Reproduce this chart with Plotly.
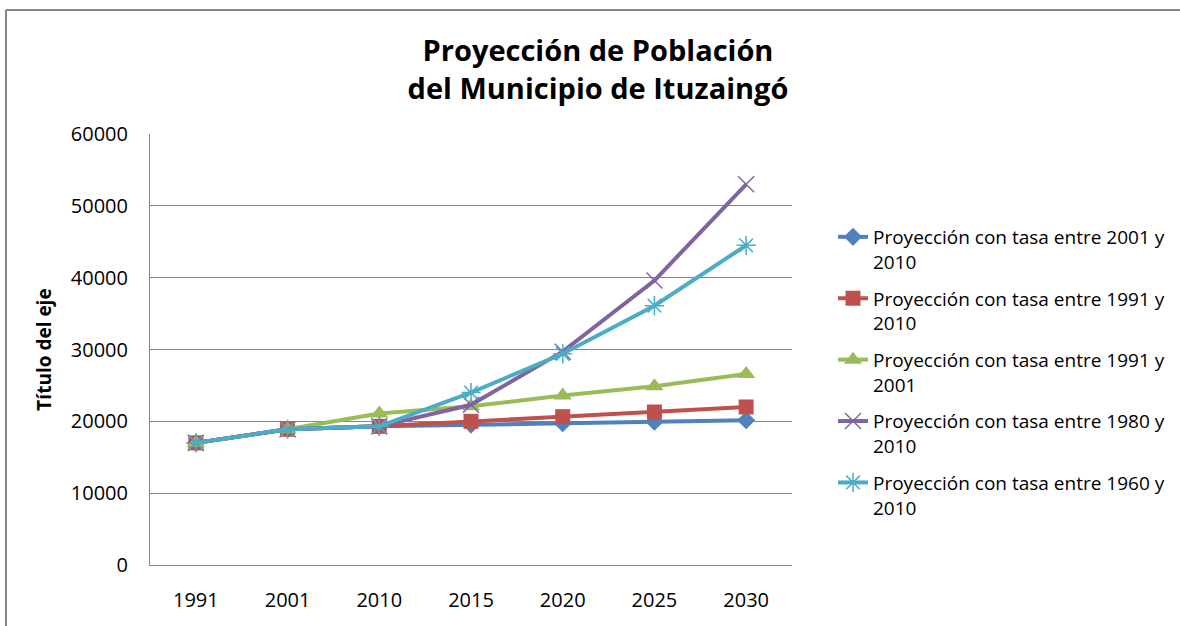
import plotly.graph_objects as go

years = ["1991", "2001", "2010", "2015", "2020", "2025", "2030"]

names = [
    "Proyección con tasa entre 2001 y<br>2010",
    "Proyección con tasa entre 1991 y<br>2010",
    "Proyección con tasa entre 1991 y<br>2001",
    "Proyección con tasa entre 1980 y<br>2010",
    "Proyección con tasa entre 1960 y<br>2010",
]

tasa_2001_2010 = [17000, 18900, 19300, 19550, 19750, 19950, 20150]
tasa_1991_2010 = [17000, 18900, 19300, 20000, 20650, 21300, 22000]
tasa_1991_2001 = [17000, 18900, 21100, 22100, 23600, 24900, 26600]
tasa_1980_2010 = [17000, 18900, 19300, 22300, 29700, 39600, 53000]
tasa_1960_2010 = [17000, 18900, 19300, 24000, 29400, 36100, 44500]

series = [tasa_2001_2010, tasa_1991_2010, tasa_1991_2001, tasa_1980_2010, tasa_1960_2010]
colors = ["#4F81BD", "#C0504D", "#9BBB59", "#8064A2", "#4BACC6"]
symbols = ["diamond", "square", "triangle-up", "x-thin", "asterisk"]
sizes = [14, 15, 16, 16, 16]

FONT = "Open Sans"

fig = go.Figure()
for i, (nm, vals) in enumerate(zip(names, series)):
    sym = symbols[i]
    marker = dict(symbol=sym, size=sizes[i], color=colors[i])
    if sym in ("x-thin", "asterisk"):
        marker["line"] = dict(color=colors[i], width=1.5)
    fig.add_trace(go.Scatter(
        x=years, y=vals, name=nm, mode="lines+markers",
        line=dict(color=colors[i], width=4),
        marker=marker, legendgroup=f"g{i}",
    ))

L, R, T, B = 150, 792, 134, 565
W, H = 1180, 626
pw, ph = R - L, B - T

def px(x):
    return (x - L) / pw

def py(y):
    return (B - y) / ph

fig.update_layout(
    width=W, height=H,
    margin=dict(l=L, r=W - R, t=T, b=H - B, autoexpand=False),
    paper_bgcolor="white", plot_bgcolor="white",
    font=dict(family=FONT, color="#000000"),
    title=dict(
        text="<b>Proyección de Población<br>del Municipio de Ituzaingó</b>",
        x=598 / W, xref="container", xanchor="center",
        y=1 - 61 / H, yref="container", yanchor="top",
        font=dict(family=FONT, size=29, color="#000000"),
    ),
    legend=dict(
        x=px(833), xanchor="left", y=py(218), yanchor="top",
        font=dict(family=FONT, size=19, color="#000000"),
        tracegroupgap=9, valign="top", bgcolor="rgba(0,0,0,0)",
        itemwidth=30,
    ),
    showlegend=True,
)

fig.update_xaxes(
    type="category", range=[-0.5, 6.5],
    showgrid=False, showline=True, linecolor="#868686", linewidth=1,
    ticks="", tickfont=dict(family=FONT, size=20, color="#000000"),
    ticklabelstandoff=17, zeroline=False,
)
fig.update_yaxes(
    range=[0, 60000], tickvals=[0, 10000, 20000, 30000, 40000, 50000, 60000],
    ticktext=["0", "10000", "20000", "30000", "40000", "50000", "60000"],
    showgrid=True, gridcolor="#868686", gridwidth=1,
    showline=True, linecolor="#868686", linewidth=1, zeroline=False,
    ticks="", tickfont=dict(family=FONT, size=20, color="#000000"),
    ticklabelstandoff=17,
    title=dict(text="<b>Título del eje</b>", font=dict(family=FONT, size=19, color="#000000"), standoff=14),
)

# outer chart frame (left and top edges)
fig.add_shape(type="line", xref="paper", yref="paper",
              x0=px(6), x1=px(6), y0=py(10), y1=py(626),
              line=dict(color="#868686", width=2))
fig.add_shape(type="line", xref="paper", yref="paper",
              x0=px(6), x1=px(1180), y0=py(10), y1=py(10),
              line=dict(color="#868686", width=2))

fig.write_html("out.html", config={"displayModeBar": False},
               post_script="document.body.style.margin='0px';")
